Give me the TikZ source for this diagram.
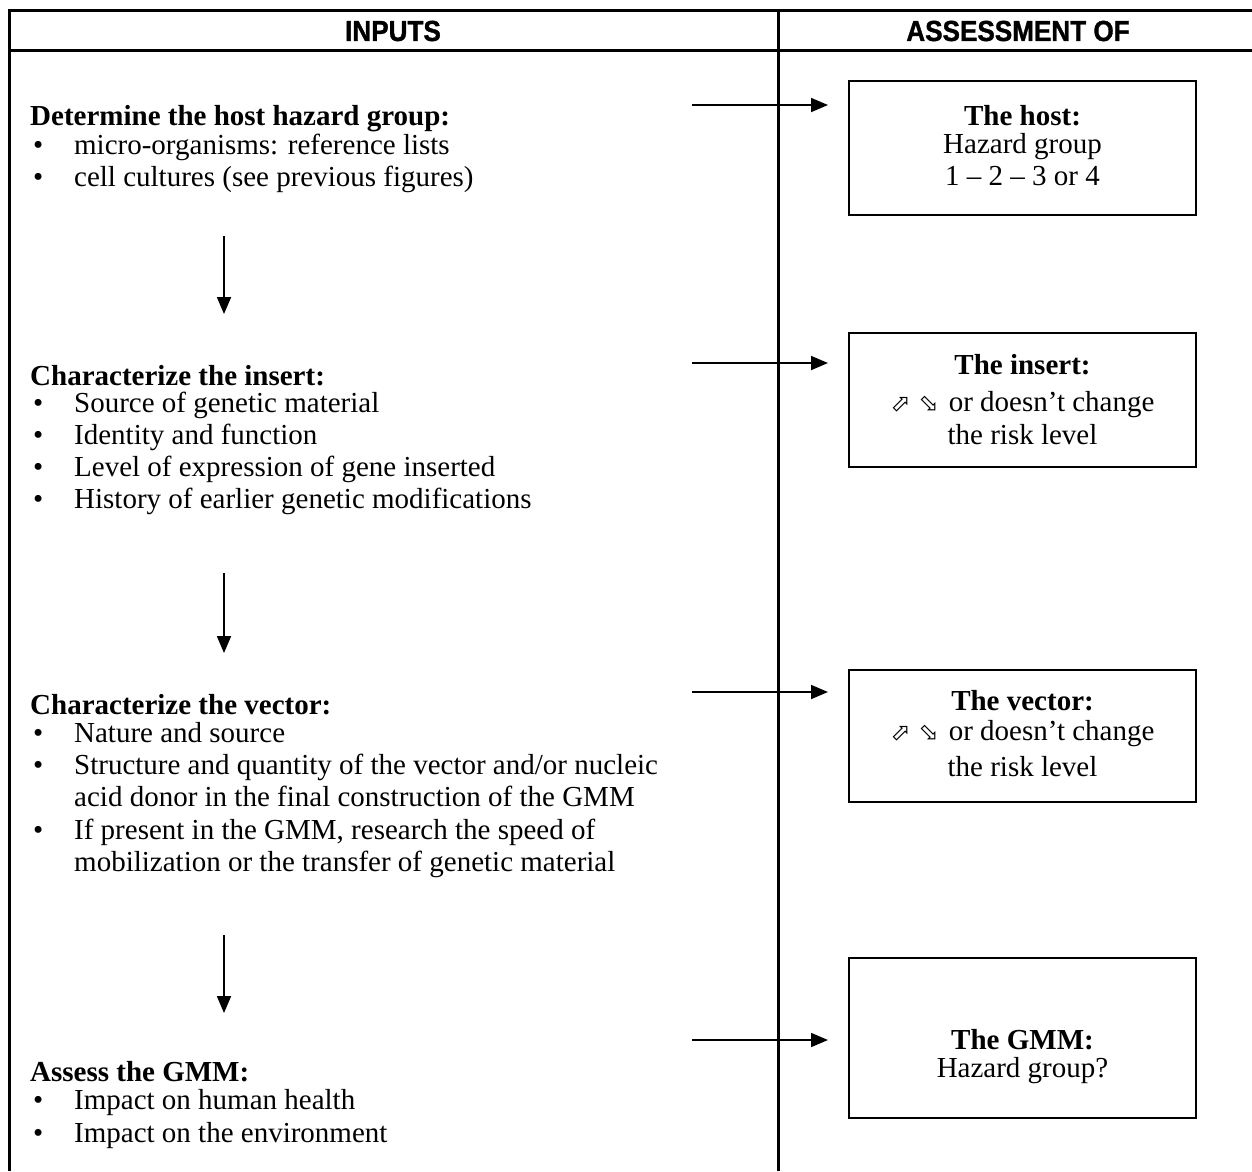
\documentclass[tikz,border=0pt]{standalone}
\usepackage{fontspec}
\setmainfont{Liberation Serif}
\newfontfamily\headfont[FakeStretch=0.9,FakeBold=1.2]{Liberation Sans}
\newfontfamily\symfont{DejaVu Sans}
\usetikzlibrary{arrows.meta}

% bullet with a fixed hanging indent
\newcommand\itembul{\makebox[41pt][l]{•}}
% outline arrows for "increases / decreases"
\newcommand\updown{{\symfont\fontsize{24}{26}\selectfont ⬀\hspace{8pt}⬂}\hspace{10pt}}

\begin{document}
\begin{tikzpicture}[x=1pt,y=-1pt,
  rule/.style={line width=3pt},
  head/.style={font=\headfont\bfseries\fontsize{29}{32}\selectfont, anchor=center, inner sep=0pt},
  body/.style={font=\fontsize{29}{33}\selectfont, anchor=base west, inner sep=0pt},
  heading/.style={body, font=\fontsize{29}{33}\selectfont\bfseries},
  box/.style={draw, line width=2pt, minimum width=347pt, inner sep=0pt},
  boxline/.style={font=\fontsize{29}{33}\selectfont, anchor=base, inner sep=0pt},
  boxhead/.style={boxline, font=\fontsize{29}{33}\selectfont\bfseries},
  flow/.style={line width=1.8pt, -{Triangle[length=17pt,width=14pt]}},
]
\useasboundingbox (0,0) rectangle (1252,1171);

% table frame
\draw[rule] (1252,10) -- (9.5,10) -- (9.5,1171);
\draw[rule] (9.5,50) -- (1252,50);
\draw[rule] (778,10) -- (778,1171);

% column headers
\node[head] (hin)  at (393,31)  {INPUTS};
\node[head] (hout) at (1018,31) {ASSESSMENT OF};

% ---- host
\node[heading] (t1) at (30,125) {Determine the host hazard group:};
\node[body] (t1a) at (33,154) {\itembul micro-organisms: reference lists};
\node[body] (t1b) at (33,186) {\itembul cell cultures (see previous figures)};

% ---- insert
\node[heading] (t2) at (30,385) {Characterize the insert:};
\node[body] (t2a) at (33,412) {\itembul Source of genetic material};
\node[body] (t2b) at (33,444) {\itembul Identity and function};
\node[body] (t2c) at (33,476) {\itembul Level of expression of gene inserted};
\node[body] (t2d) at (33,508) {\itembul History of earlier genetic modifications};

% ---- vector
\node[heading] (t3) at (30,714) {Characterize the vector:};
\node[body] (t3a) at (33,742) {\itembul Nature and source};
\node[body] (t3b) at (33,774) {\itembul Structure and quantity of the vector and/or nucleic};
\node[body] (t3c) at (74,806) {acid donor in the final construction of the GMM};
\node[body] (t3d) at (33,839) {\itembul If present in the GMM, research the speed of};
\node[body] (t3e) at (74,871) {mobilization or the transfer of genetic material};

% ---- GMM
\node[heading] (t4) at (30,1081) {Assess the GMM:};
\node[body] (t4a) at (33,1109) {\itembul Impact on human health};
\node[body] (t4b) at (33,1142) {\itembul Impact on the environment};

% ---- assessment boxes
\node[box, minimum height=134pt] (b1) at (1022.5,148) {};
\node[boxhead] (b1a) at (1022.5,125) {The host:};
\node[boxline] (b1b) at (1022.5,153) {Hazard group};
\node[boxline] (b1c) at (1022.5,185) {1 – 2 – 3 or 4};

\node[box, minimum height=134pt] (b2) at (1022.5,400) {};
\node[boxhead] (b2a) at (1022.5,374) {The insert:};
\node[boxline] (b2b) at (1022.5,411) {\updown or doesn’t change};
\node[boxline] (b2c) at (1022.5,444) {the risk level};

\node[box, minimum height=132pt] (b3) at (1022.5,736) {};
\node[boxhead] (b3a) at (1022.5,710) {The vector:};
\node[boxline] (b3b) at (1022.5,740) {\updown or doesn’t change};
\node[boxline] (b3c) at (1022.5,776) {the risk level};

\node[box, minimum height=160pt] (b4) at (1022.5,1038) {};
\node[boxhead] (b4a) at (1022.5,1049) {The GMM:};
\node[boxline] (b4b) at (1022.5,1077) {Hazard group?};

% ---- horizontal arrows towards the boxes
\foreach \i/\y in {1/105, 2/363, 3/692, 4/1040} {
  \coordinate (hs\i) at (692,\y);
  \coordinate (he\i) at (828,\y);
  \draw[flow] (hs\i) -- (he\i);
}

% ---- vertical arrows between the steps
\foreach \i/\ya/\yb in {1/236/314, 2/573/653, 3/935/1013} {
  \coordinate (vs\i) at (224,\ya);
  \coordinate (ve\i) at (224,\yb);
  \draw[flow] (vs\i) -- (ve\i);
}
\end{tikzpicture}
\end{document}
